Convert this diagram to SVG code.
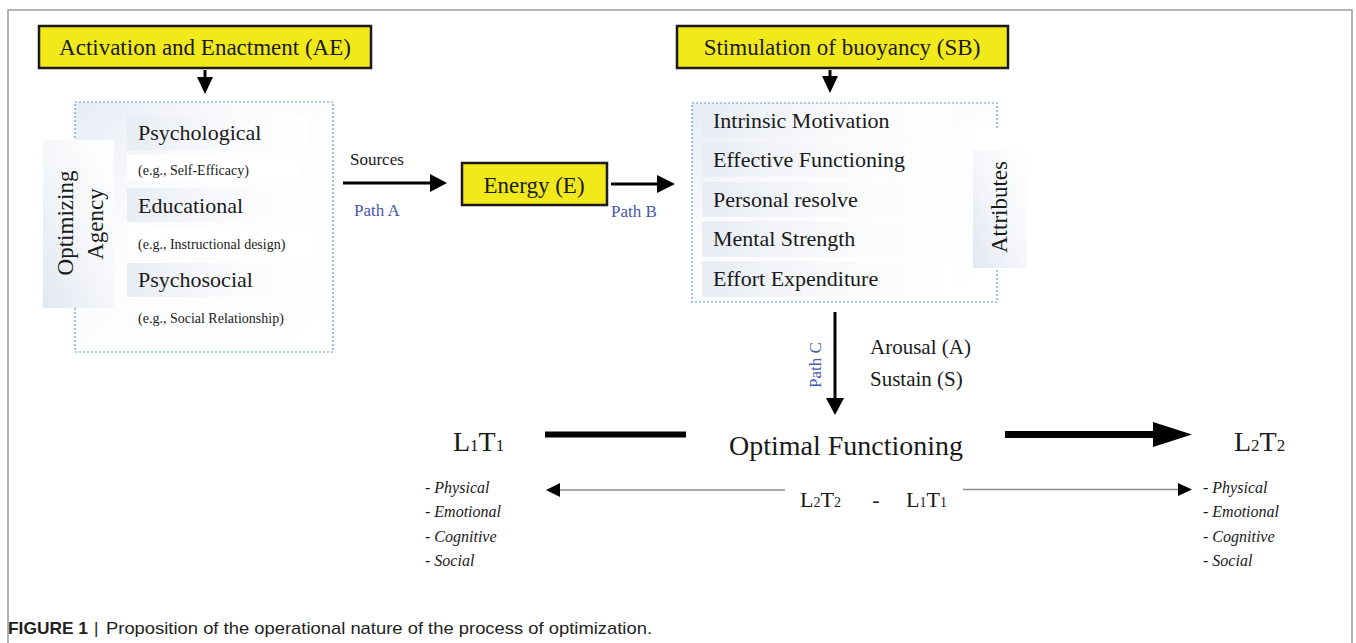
<svg xmlns="http://www.w3.org/2000/svg" width="1356" height="643" viewBox="0 0 1356 643">
<defs>
<linearGradient id="stripGrad" x1="0" y1="0" x2="1" y2="0">
<stop offset="0" stop-color="#e8edf4"/>
<stop offset="0.5" stop-color="#f8f9fb"/>
<stop offset="1" stop-color="#ffffff"/>
</linearGradient>
<linearGradient id="sideGrad" x1="0" y1="1" x2="1" y2="0">
<stop offset="0" stop-color="#e1e7f1"/>
<stop offset="0.5" stop-color="#f5f7fa"/>
<stop offset="1" stop-color="#ffffff"/>
</linearGradient>
<linearGradient id="boxGrad" x1="0" y1="0" x2="1" y2="1">
<stop offset="0" stop-color="#e7ecf4"/>
<stop offset="0.35" stop-color="#fbfcfd"/>
<stop offset="1" stop-color="#ffffff"/>
</linearGradient>
</defs>
<style>
.frame{fill:none;stroke:#9a9a9a;stroke-width:1.5}
.ybox{fill:#f1e91a;stroke:#1a1a1a;stroke-width:2.5}
.dbox{fill:url(#boxGrad);stroke:#5b9bd5;stroke-width:1.2;stroke-dasharray:2 2}
.strip{fill:url(#stripGrad)}
.side{fill:url(#sideGrad)}
.wht{fill:#ffffff}
.t{font-family:"Liberation Serif","DejaVu Serif",serif;fill:#1a1a1a}
.big{font-size:23px}
.item{font-size:22px}
.ex{font-size:14px}
.lbl{font-size:17px}
.blue{fill:#4657ad}
.it{font-style:italic;font-size:16px}
.lt{font-size:28px}
.sub{font-size:17px}
.cap{font-family:"Liberation Sans",Arial,sans-serif;font-size:17px;fill:#231f20}
.ln{stroke:#000;fill:none}
.ah{fill:#000}
.gl{stroke:#8a8a8a;stroke-width:1.5;fill:none}
</style>
<path class="frame" d="M8,643 V10 H1352 V643"/>

<g id="node-ae">
<rect class="ybox" x="39" y="26" width="332" height="42"/>
<text class="t big" x="205" y="55" text-anchor="middle">Activation and Enactment (AE)</text>
</g>

<g id="node-sb">
<rect class="ybox" x="677" y="26" width="331" height="42"/>
<text class="t big" x="842" y="55" text-anchor="middle">Stimulation of buoyancy (SB)</text>
</g>

<g id="node-optimizing-agency">
<rect class="dbox" x="75" y="102" width="258" height="250"/>
<rect class="strip" x="127" y="115" width="181" height="35"/>
<rect class="wht" x="127" y="155" width="173" height="26"/>
<rect class="strip" x="127" y="188" width="181" height="34"/>
<rect class="wht" x="127" y="230" width="185" height="27"/>
<rect class="strip" x="127" y="263" width="181" height="34"/>
<rect class="side" x="43" y="140" width="71" height="168"/>
<text class="t big" transform="translate(73,223) rotate(-90)" text-anchor="middle">Optimizing</text>
<text class="t big" transform="translate(103,224) rotate(-90)" text-anchor="middle">Agency</text>
<text class="t item" x="138" y="140">Psychological</text>
<text class="t ex" x="138" y="175">(e.g., Self-Efficacy)</text>
<text class="t item" x="138" y="213">Educational</text>
<text class="t ex" x="138" y="249">(e.g., Instructional design)</text>
<text class="t item" x="138" y="287">Psychosocial</text>
<text class="t ex" x="138" y="323">(e.g., Social Relationship)</text>
</g>

<g id="node-energy">
<rect class="ybox" x="462" y="163" width="145" height="42"/>
<text class="t big" x="534" y="193" text-anchor="middle">Energy (E)</text>
</g>

<g id="node-attributes">
<rect class="dbox" x="692" y="103" width="305" height="199"/>
<rect class="strip" x="702" y="104" width="248" height="33"/>
<rect class="strip" x="702" y="142" width="248" height="35"/>
<rect class="strip" x="702" y="182" width="248" height="35"/>
<rect class="strip" x="702" y="221" width="248" height="36"/>
<rect class="strip" x="702" y="261" width="248" height="36"/>
<rect class="wht" x="973" y="128" width="54" height="22"/>
<rect class="side" x="973" y="150" width="54" height="118"/>
<text class="t big" transform="translate(1007,207) rotate(-90)" text-anchor="middle">Attributes</text>
<text class="t item" x="713" y="128">Intrinsic Motivation</text>
<text class="t item" x="713" y="167">Effective Functioning</text>
<text class="t item" x="713" y="207">Personal resolve</text>
<text class="t item" x="713" y="246">Mental Strength</text>
<text class="t item" x="713" y="286">Effort Expenditure</text>
</g>

<g id="node-optimal">
<text class="t lt" x="846" y="455" text-anchor="middle">Optimal Functioning</text>
</g>

<g id="node-l1t1">
<text class="t lt" x="453" y="451">L<tspan class="sub">1</tspan>T<tspan class="sub">1</tspan></text>
<text class="t it" x="425" y="493">- Physical</text>
<text class="t it" x="425" y="517">- Emotional</text>
<text class="t it" x="425" y="542">- Cognitive</text>
<text class="t it" x="425" y="566">- Social</text>
</g>

<g id="node-l2t2">
<text class="t lt" x="1234" y="451">L<tspan class="sub">2</tspan>T<tspan class="sub">2</tspan></text>
<text class="t it" x="1203" y="493">- Physical</text>
<text class="t it" x="1203" y="517">- Emotional</text>
<text class="t it" x="1203" y="542">- Cognitive</text>
<text class="t it" x="1203" y="566">- Social</text>
</g>

<g id="node-difference">
<text class="t" font-size="22" x="800" y="507">L<tspan font-size="14">2</tspan>T<tspan font-size="14">2</tspan></text>
<text class="t" font-size="22" x="876" y="507" text-anchor="middle">-</text>
<text class="t" font-size="22" x="906" y="507">L<tspan font-size="14">1</tspan>T<tspan font-size="14">1</tspan></text>
</g>

<g id="connectors">
<line class="ln" x1="205" y1="70" x2="205" y2="79" stroke-width="3"/>
<polygon class="ah" points="197,77 213,77 205,94"/>
<line class="ln" x1="830" y1="70" x2="830" y2="78" stroke-width="3"/>
<polygon class="ah" points="822,76 838,76 830,93"/>
<line class="ln" x1="343" y1="183" x2="432" y2="183" stroke-width="3"/>
<polygon class="ah" points="430,174 430,192 447,183"/>
<text class="t lbl" x="350" y="165">Sources</text>
<text class="t lbl blue" x="354" y="216">Path A</text>
<line class="ln" x1="611" y1="184" x2="659" y2="184" stroke-width="3"/>
<polygon class="ah" points="657,175 657,193 675,184"/>
<text class="t lbl blue" x="611" y="217">Path B</text>
<line class="ln" x1="835" y1="312" x2="835" y2="400" stroke-width="3"/>
<polygon class="ah" points="826,398 844,398 835,415"/>
<text class="t lbl blue" transform="translate(821,365) rotate(-90)" text-anchor="middle">Path C</text>
<text class="t" font-size="21" x="870" y="354">Arousal (A)</text>
<text class="t" font-size="21" x="870" y="386">Sustain (S)</text>
<line class="ln" x1="545" y1="434.5" x2="686" y2="434.5" stroke-width="6"/>
<line class="ln" x1="1005" y1="434.5" x2="1156" y2="434.5" stroke-width="7"/>
<polygon class="ah" points="1153,422 1153,447 1192,434.5"/>
<line class="gl" x1="785" y1="490" x2="556" y2="490"/>
<polygon class="ah" points="546,490 560,483 560,497"/>
<line class="gl" x1="963" y1="489.5" x2="1182" y2="489.5"/>
<polygon class="ah" points="1192,489.5 1178,483 1178,496"/>
</g>

<text class="cap" x="8" y="634" font-weight="bold" textLength="80" lengthAdjust="spacingAndGlyphs">FIGURE 1</text>
<text class="cap" x="94" y="634">|</text>
<text class="cap" x="106" y="634" textLength="546" lengthAdjust="spacingAndGlyphs">Proposition of the operational nature of the process of optimization.</text>
</svg>
